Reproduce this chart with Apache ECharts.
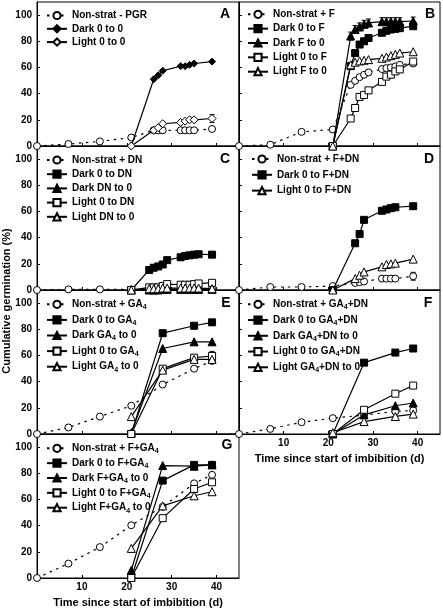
<!DOCTYPE html>
<html><head><meta charset="utf-8">
<script src="https://cdn.jsdelivr.net/npm/echarts@6/dist/echarts.min.js"></script>
<style>html,body{margin:0;padding:0;background:#fff}#c{width:443px;height:609px}</style>
</head><body><div id="c"></div>
<script>
// ---- Panel A ----
const daysA_ns = [0,7,14,21,26,27,28,32,33,34,35,39];
const A_nonstrat = [0,1.5,3.5,6.5,12,12,12,12,12,12,12,13];
const daysA = [21,26,27,28,32,33,34,35,39];
const A_dark = [0,51,54,57.5,61,61,62,63,64.5];
const A_light = [0,12,14,17,18,19,20,20,21];
const A_light_err = [0,0,0,0,0,0,0,0,3];
// ---- Panel B ----
const daysB_ns = [0,7,14,21,25,26,27,28,29,32,33,34,35,36,39];
const B_nonstrat = [0,1,10.8,12.6,46.7,49.8,52.6,54.4,56.2,58.8,59.5,60,60.8,62,63];
const daysB = [21,25,26,27,28,29,32,33,34,35,36,39];
const B_dark0F = [0,61,71,77.5,80,82.5,86.5,88,89,89.5,90,91.5];
const B_darkF0 = [0,84,89,91,93,94,95,95,95,95,95,95.5];
const B_darkF0_err = [0,3,3,3,3,3,3,3,3,3,3,3];
const B_light0F = [0,21,29,37.5,39,42.5,49,53,54.5,57,58.5,64.5];
const B_lightF0 = [0,62,64,65,65.5,66,67,68,69,70,71,72];
// ---- Panel C ----
const daysC_ns = [0,7,14,21,25,26,27,28,29,32,33,34,35,36,39];
const C_nonstrat = [0,0.5,0.5,0.5,0.5,0.5,1,1,1,1,1,1,1,1,1];
const daysC = [21,25,26,27,28,29,32,33,34,35,36,39];
const C_dark0DN = [0,15.3,17,18,19.5,22.8,25,26,26.5,27,27.3,27];
const C_darkDN0 = [0,0,0,0,0.5,0.5,0.5,0.5,0.5,0.5,0.5,0.5];
const C_light0DN = [0,2,2,2,3,4.5,4,4,4,4.5,5,5.5];
const C_lightDN0 = [0,1,1,1,1.5,1.5,1.5,1.5,1.5,1.5,1.5,1];
// ---- Panel D ----
const daysD_ns = [0,7,14,21,26,27,28,32,33,34,35,39];
const D_nonstrat = [0,2.3,2.3,3,5.4,6,6.5,8.7,8.7,8.7,8.7,10.5];
const D_nonstrat_err = [0,0,0,0,0,0,0,0,0,0,0,3];
const daysD = [21,26,27,28,32,33,34,35,39];
const D_dark = [0,35.7,42.8,53.6,60.5,61.5,62.5,63.2,64];
const D_light = [0,8.7,11.3,13.8,17.7,19.5,20,20.5,23.6];
// ---- Panel E ----
const daysE_ns = [0,7,14,21,28,35,39];
const E_nonstrat = [0,5,13.3,21.6,37.8,49.9,55.8];
const daysE = [21,28,35,39];
const E_dark0 = [0,77,82.7,85.3];
const E_darkGA0 = [1,65.3,70.4,70.4];
const E_light0 = [0,49.9,58.3,59.6];
const E_light0_err = [0,0,0,3.5];
const E_lightGA0 = [13.3,48.8,57,57];
// ---- Panel F ----
const daysF_ns = [0,7,14,21,28,35,39];
const F_nonstrat = [0,3.9,9,12.1,14.5,17.2,18];
const daysF = [21,28,35,39];
const F_dark0 = [0,54.5,62.2,65.3];
const F_darkGA0 = [0,14.6,21.6,23.7];
const F_light0 = [0,18.5,30.8,37];
const F_lightGA0 = [1,9.5,13.4,15.2];
// ---- Panel G ----
const daysG_ns = [0,7,14,21,28,35,39];
const G_nonstrat = [0,11,23.6,40.3,54.4,72.3,78.8];
const daysG = [21,28,35,39];
const G_dark0 = [0,74.4,86.4,86.4];
const G_darkFGA0 = [5.9,85.9,85.4,86.4];
const G_darkFGA0_err = [0,0,2.5,0];
const G_light0 = [0,45.7,68,73.1];
const G_lightFGA0 = [22.6,55.1,62.8,65.9];

const xTicks = [10,20,30,40];
const yTicks = [0,20,40,60,80,100];
const panelLetters = ['A','B','C','D','E','F','G'];

const FONT = "'Liberation Sans',Arial,sans-serif";
const pts = (d, v) => d.map((x, i) => [x, v[i]]);

const grids = [
  {left:37, top:2, width:202, height:144},
  {left:239, top:2, width:201, height:144},
  {left:37, top:146, width:202, height:144},
  {left:239, top:146, width:201, height:144},
  {left:37, top:290, width:202, height:144},
  {left:239, top:290, width:201, height:144},
  {left:37, top:434, width:202, height:144}
];

const KIND = {
  ns:   {symbol:'circle', fill:'#fff', dotted:true, size:7},
  dd:   {symbol:'diamond', fill:'#000', size:7},
  ld:   {symbol:'diamond', fill:'#fff', size:8},
  dsq:  {symbol:'rect', fill:'#000', size:7},
  dtri: {symbol:'triangle', fill:'#000', size:8},
  lsq:  {symbol:'rect', fill:'#fff', size:7},
  ltri: {symbol:'triangle', fill:'#fff', size:8}
};

const panels = [
  [['Non-strat - PGR','ns',daysA_ns,A_nonstrat],['Dark 0 to 0','dd',daysA,A_dark],['Light 0 to 0','ld',daysA,A_light,A_light_err]],
  [['Non-strat + F','ns',daysB_ns,B_nonstrat],['Dark 0 to F','dsq',daysB,B_dark0F],['Dark F to 0','dtri',daysB,B_darkF0,B_darkF0_err],['Light 0 to F','lsq',daysB,B_light0F],['Light F to 0','ltri',daysB,B_lightF0]],
  [['Non-strat + DN','ns',daysC_ns,C_nonstrat],['Dark 0 to DN','dsq',daysC,C_dark0DN],['Dark DN to 0','dtri',daysC,C_darkDN0],['Light 0 to DN','lsq',daysC,C_light0DN],['Light DN to 0','ltri',daysC,C_lightDN0]],
  [['Non-strat + F+DN','ns',daysD_ns,D_nonstrat,D_nonstrat_err],['Dark 0 to F+DN','dsq',daysD,D_dark],['Light 0 to F+DN','ltri',daysD,D_light]],
  [['Non-strat + GA4','ns',daysE_ns,E_nonstrat],['Dark 0 to GA4','dsq',daysE,E_dark0],['Dark GA4 to 0','dtri',daysE,E_darkGA0],['Light 0 to GA4','lsq',daysE,E_light0,E_light0_err],['Light GA4 to 0','ltri',daysE,E_lightGA0]],
  [['Non-strat + GA4+DN','ns',daysF_ns,F_nonstrat],['Dark 0 to GA4+DN','dsq',daysF,F_dark0],['Dark GA4+DN to 0','dtri',daysF,F_darkGA0],['Light 0 to GA4+DN','lsq',daysF,F_light0],['Light GA4+DN to 0','ltri',daysF,F_lightGA0]],
  [['Non-strat + F+GA4','ns',daysG_ns,G_nonstrat],['Dark 0 to F+GA4','dsq',daysG,G_dark0],['Dark F+GA4 to 0','dtri',daysG,G_darkFGA0,G_darkFGA0_err],['Light 0 to F+GA4','lsq',daysG,G_light0],['Light F+GA4 to 0','ltri',daysG,G_lightFGA0]]
];

const legendPos = [[46,9,0.3],[247,7.8,1.35],[46,153.5,1.2],[251,152.5,2.8],[46,297.8,2.6],[247,297.8,2.75],[46,441.8,1.85]];
const letterPos = [[225,14],[430,14],[225,159],[429,159],[226,303],[428,303],[227,445]];

function errRender(params, api) {
  const x = api.value(0), lo = api.value(1), hi = api.value(2);
  const p1 = api.coord([x, lo]), p2 = api.coord([x, hi]);
  const st = {stroke:'#000', lineWidth:1};
  return {type:'group', children:[
    {type:'line', shape:{x1:p1[0], y1:p1[1], x2:p2[0], y2:p2[1]}, style:st},
    {type:'line', shape:{x1:p2[0]-2.5, y1:p2[1], x2:p2[0]+2.5, y2:p2[1]}, style:st},
    {type:'line', shape:{x1:p1[0]-2.5, y1:p1[1], x2:p1[0]+2.5, y2:p1[1]}, style:st}
  ]};
}

const xAxes = [], yAxes = [], series = [], legends = [];
grids.forEach((g, i) => {
  const isLeft = (i % 2 === 0);
  const showX = (i === 5 || i === 6);
  xAxes.push({
    type:'value', gridIndex:i, min:0, max:45, interval:10,
    axisLine:{show:true, onZero:false, lineStyle:{color:'#000', width:1}},
    axisTick:{show:true, inside:true, length:3, lineStyle:{color:'#000'}, customValues: xTicks},
    splitLine:{show:false},
    axisLabel:{show:showX, color:'#000', fontFamily:FONT, fontWeight:'bold', fontSize:10, margin:4, customValues: xTicks},
    name: showX ? 'Time since start of imbibition (d)' : '',
    nameLocation:'middle', nameGap:19,
    nameTextStyle:{color:'#000', fontFamily:FONT, fontWeight:'bold', fontSize:11}
  });
  yAxes.push({
    type:'value', gridIndex:i, min:0, max:110, interval:20,
    axisLine:{show:true, lineStyle:{color:'#000', width:1}},
    axisTick:{show:true, inside:true, length:3, lineStyle:{color:'#000'}, customValues: yTicks},
    splitLine:{show:false},
    axisLabel:{show:isLeft, color:'#000', fontFamily:FONT, fontWeight:'bold', fontSize:10, margin:5, customValues: yTicks}
  });
  const names = [];
  panels[i].forEach(([name, kind, d, v, err]) => {
    const k = KIND[kind];
    names.push(name);
    if (err) {
      const ed = [];
      d.forEach((x, j) => { if (err[j] > 0) ed.push([x, v[j] - err[j], v[j] + err[j]]); });
      series.push({type:'custom', name: name + ' err', xAxisIndex:i, yAxisIndex:i, data:ed,
        renderItem:errRender, z:1, silent:true, animation:false});
    }
    series.push({
      type:'line', name, xAxisIndex:i, yAxisIndex:i, data:pts(d, v),
      symbol:k.symbol, symbolSize:k.size, showSymbol:true,
      lineStyle:{color:'#000', width:1.2, type: k.dotted ? [2.5,4.5] : 'solid'},
      itemStyle:{color:k.fill, borderColor:'#000', borderWidth:1},
      animation:false, z: k.dotted ? 2 : 3
    });
  });
  const [lx, ly, gap] = legendPos[i];
  legends.push({
    data:names, left:lx, top:ly, orient:'vertical', itemGap:gap, itemWidth:20, itemHeight:9, padding:0,
    selectedMode:false,
    textStyle:{color:'#000', fontFamily:FONT, fontWeight:'bold', fontSize:10, lineHeight:13,
      rich:{sub:{fontFamily:FONT, fontWeight:'bold', fontSize:7, verticalAlign:'bottom', lineHeight:13, padding:[5,0,0,0]}}},
    formatter: n => n.replace(/GA4/g, 'GA{sub|4}')
  });
});

const graphics = panelLetters.map((t, i) => ({
  type:'text', x:letterPos[i][0], y:letterPos[i][1],
  style:{text:t, fill:'#000', font:"bold 14px 'Liberation Sans',Arial", align:'center', verticalAlign:'middle'}
}));
graphics.push({
  type:'text', x:7, y:301, rotation:Math.PI/2,
  style:{text:'Cumulative germination (%)', fill:'#000', font:"bold 11px " + FONT, align:'center', verticalAlign:'middle'}
});

const chart = echarts.init(document.getElementById('c'), null, {renderer:'canvas'});
chart.setOption({
  animation:false,
  grid: grids.map(g => Object.assign({show:true, borderColor:'#000', borderWidth:1, backgroundColor:'transparent'}, g)),
  xAxis:xAxes, yAxis:yAxes, series, legend:legends, graphic:graphics
});
</script></body></html>
